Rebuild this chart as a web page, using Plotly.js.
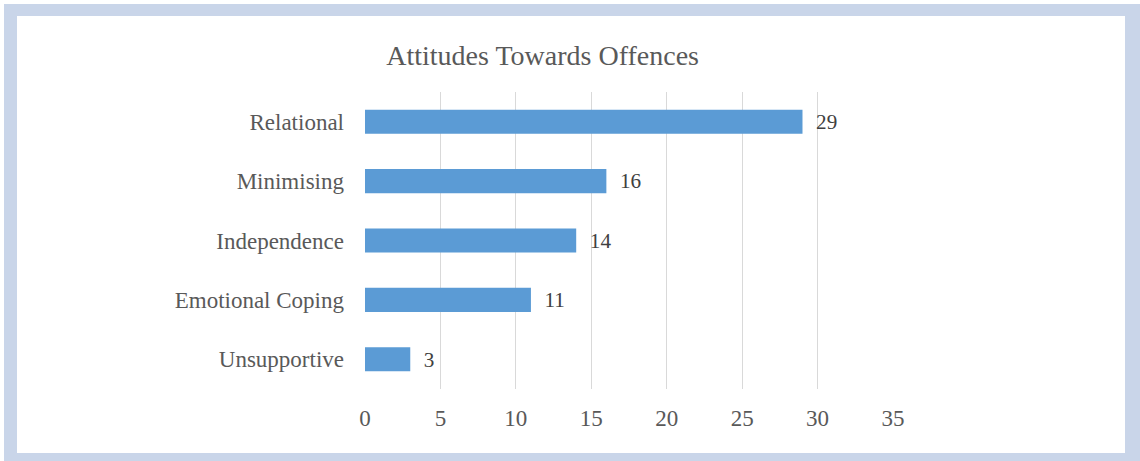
<!DOCTYPE html>
<html>
<head>
<meta charset="utf-8">
<script src="https://cdn.plot.ly/plotly-3.0.1.min.js"></script>
<style>
  html, body { margin: 0; padding: 0; background: #ffffff; }
  #frame { position: absolute; left: 4px; top: 4px; width: 1136px; height: 457px; background: #c9d5e9; }
  #inner { position: absolute; left: 13px; top: 12px; width: 1108px; height: 437px; background: #ffffff; }
  #chart { position: absolute; left: 0; top: 0; width: 1140px; height: 461px; }
</style>
</head>
<body>
<div id="frame"><div id="inner"></div></div>
<div id="chart"></div>
<script>
const categories = ["Relational", "Minimising", "Independence", "Emotional Coping", "Unsupportive"];
const counts = [29, 16, 14, 11, 3];
const xTicks = [0, 5, 10, 15, 20, 25, 30, 35];

const serif = "Liberation Serif, Times New Roman, serif";

const trace = {
  type: "bar",
  orientation: "h",
  y: categories,
  x: counts,
  marker: { color: "#5b9bd5" },
  text: counts.map(String),
  texttemplate: "\u2002%{x}",
  textposition: "outside",
  cliponaxis: false,
  textfont: { family: serif, size: 22, color: "#404040" },
  hoverinfo: "skip"
};

const layout = {
  width: 1140,
  height: 461,
  margin: { l: 365, r: 247, t: 92, b: 72 },
  paper_bgcolor: "rgba(0,0,0,0)",
  plot_bgcolor: "rgba(0,0,0,0)",
  showlegend: false,
  bargap: 0.595,
  title: {
    text: "Attitudes Towards Offences",
    font: { family: serif, size: 28, color: "#595959" },
    x: 0.476, xref: "container", xanchor: "center",
    y: 0.88, yref: "container", yanchor: "middle"
  },
  xaxis: {
    range: [0, 35],
    tickvals: xTicks,
    ticktext: xTicks.map(String),
    showgrid: true,
    gridcolor: "#d9d9d9",
    gridwidth: 1,
    zeroline: false,
    showline: false,
    ticks: "",
    ticklabelstandoff: 13,
    tickfont: { family: serif, size: 23, color: "#595959" },
    fixedrange: true
  },
  yaxis: {
    autorange: "reversed",
    showgrid: false,
    zeroline: false,
    showline: false,
    ticks: "",
    ticklabelstandoff: 20,
    tickfont: { family: serif, size: 23, color: "#595959" },
    fixedrange: true
  }
};

Plotly.newPlot("chart", [trace], layout, { displayModeBar: false, staticPlot: true });
</script>
</body>
</html>
